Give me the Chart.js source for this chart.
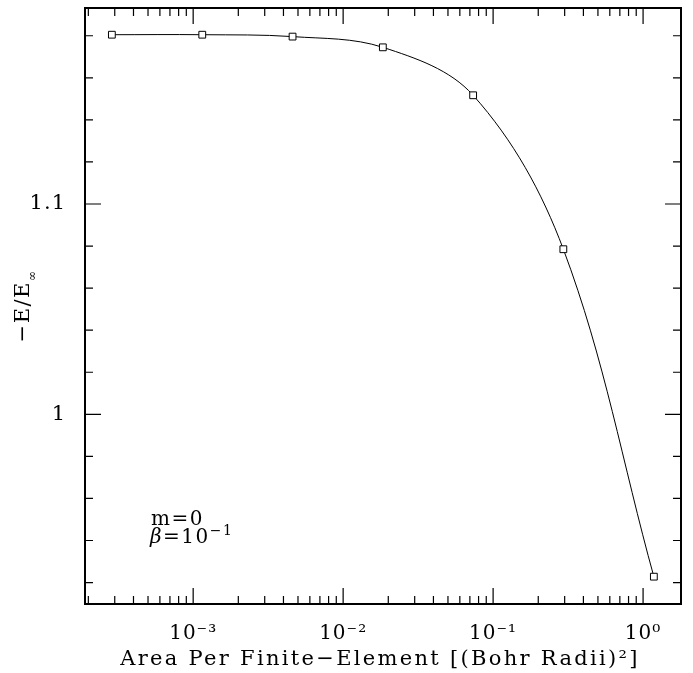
<!DOCTYPE html>
<html lang="en">
<head>
    <meta charset="UTF-8">
    <title>-E/E_inf vs element area</title>
    <script src="https://cdn.jsdelivr.net/npm/chart.js"></script>
    <style>
        body {
            margin: 0;
            background-color: #fff;
        }
        #wrap {
            width: 693px;
            height: 673px;
        }
    </style>
</head>
<body>
    <div id="wrap"><canvas id="graph"></canvas></div>

    <script>
        // area per finite element (Bohr radii^2) and -E/E_inf
        const area = [0.000287, 0.00115, 0.0046, 0.0184, 0.0736, 0.294, 1.18];
        const energy = [1.1805, 1.1805, 1.1796, 1.1745, 1.1517, 1.0785, 0.9228];

        const xMajor = [0.001, 0.01, 0.1, 1];
        const xMajorLabels = ['10⁻³', '10⁻²', '10⁻¹', '10⁰'];
        const yTicks = [0.92, 0.94, 0.96, 0.98, 1.0, 1.02, 1.04, 1.06, 1.08, 1.1, 1.12, 1.14, 1.16, 1.18];
        const yMajor = [1.0, 1.1];
        const yMajorLabels = ['1', '1.1'];

        const xTitle = 'Area Per Finite−Element [(Bohr Radii)²]';

        const xRange = [1.9e-4, 1.79];
        const yRange = [0.9098, 1.1932];

        const serif = '"DejaVu Serif", serif';

        // minor log ticks: 2..9 times each decade inside the range
        const xAll = [];
        for (let e = -4; e <= 0; e++) {
            for (let k = 1; k <= 9; k++) {
                const v = k * Math.pow(10, e);
                if (v >= xRange[0] && v <= xRange[1]) xAll.push(v);
            }
        }

        const isMajor = (list, v) => list.findIndex(m => Math.abs(m - v) / m < 1e-6);

        // inward ticks on all four sides, frame, axis titles and note
        const framePlugin = {
            id: 'frame',
            beforeDraw(chart) {
                chart.ctx.letterSpacing = '1px';
            },
            afterDatasetsDraw(chart) {
                const ctx = chart.ctx;
                const a = chart.chartArea;
                const xs = chart.scales.x, ys = chart.scales.y;
                ctx.save();
                ctx.strokeStyle = '#000';
                ctx.lineWidth = 1.2;
                ctx.beginPath();
                xAll.forEach(v => {
                    const px = xs.getPixelForValue(v);
                    const len = isMajor(xMajor, v) >= 0 ? 16 : 8;
                    ctx.moveTo(px, a.bottom); ctx.lineTo(px, a.bottom - len);
                    ctx.moveTo(px, a.top); ctx.lineTo(px, a.top + len);
                });
                yTicks.forEach(v => {
                    const py = ys.getPixelForValue(v);
                    const len = isMajor(yMajor, v) >= 0 ? 16 : 8;
                    ctx.moveTo(a.left, py); ctx.lineTo(a.left + len, py);
                    ctx.moveTo(a.right, py); ctx.lineTo(a.right - len, py);
                });
                ctx.stroke();

                ctx.lineWidth = 2;
                ctx.strokeRect(a.left, a.top, a.right - a.left, a.bottom - a.top);

                // x title
                ctx.fillStyle = '#000';
                ctx.font = '21px ' + serif;
                ctx.letterSpacing = '2.3px';
                ctx.textAlign = 'center';
                ctx.textBaseline = 'alphabetic';
                ctx.fillText(xTitle, (a.left + a.right) / 2 - 3, 665);

                // y title with subscript infinity
                ctx.letterSpacing = '1.5px';
                ctx.translate(24, (a.top + a.bottom) / 2);
                ctx.rotate(-Math.PI / 2);
                ctx.font = '21px ' + serif;
                ctx.textBaseline = 'middle';
                ctx.textAlign = 'left';
                const main = '−E/E';
                const w = ctx.measureText(main).width;
                ctx.font = '12px ' + serif;
                const ws = ctx.measureText('∞').width;
                const x0 = -(w + ws) / 2;
                ctx.font = '21px ' + serif;
                ctx.fillText(main, x0, 0);
                ctx.font = '12px ' + serif;
                ctx.fillText('∞', x0 + w, 9);
                ctx.restore();

                // note
                ctx.save();
                ctx.fillStyle = '#000';
                ctx.textBaseline = 'alphabetic';
                ctx.letterSpacing = '1.5px';
                ctx.font = '20px ' + serif;
                ctx.fillText('m=0', a.left + 66, a.top + 517);
                ctx.font = 'italic 20px ' + serif;
                ctx.fillText('β', a.left + 65, a.top + 535);
                const bw = ctx.measureText('β').width;
                ctx.font = '20px ' + serif;
                ctx.fillText('=10', a.left + 65 + bw, a.top + 535);
                const ew = ctx.measureText('=10').width;
                ctx.font = '14px ' + serif;
                ctx.fillText('−1', a.left + 65 + bw + ew, a.top + 527);
                ctx.restore();
            }
        };

        const ctx = document.getElementById('graph').getContext('2d');
        new Chart(ctx, {
            type: 'line',
            data: {
                datasets: [{
                    data: area.map((a, i) => ({ x: a, y: energy[i] })),
                    borderColor: '#000',
                    borderWidth: 1,
                    tension: 0.35,
                    pointStyle: 'rect',
                    pointRadius: 4.8,
                    pointBorderWidth: 1,
                    pointBorderColor: '#000',
                    pointBackgroundColor: '#fff',
                    fill: false,
                }],
            },
            options: {
                responsive: true,
                maintainAspectRatio: false,
                animation: false,
                layout: { padding: { top: 8, right: 12, left: 0, bottom: 0 } },
                plugins: {
                    legend: { display: false },
                    tooltip: { enabled: false },
                },
                scales: {
                    x: {
                        type: 'logarithmic',
                        min: xRange[0],
                        max: xRange[1],
                        grid: { display: false },
                        border: { display: false },
                        afterBuildTicks: s => { s.ticks = xAll.map(v => ({ value: v })); },
                        afterFit: s => {
                            s.height = 69;
                            s.paddingLeft = 0;
                            s.paddingRight = 0;
                        },
                        ticks: {
                            autoSkip: false,
                            maxRotation: 0,
                            padding: 10,
                            color: '#000',
                            font: { family: serif, size: 20 },
                            callback: v => {
                                const i = isMajor(xMajor, v);
                                return i >= 0 ? xMajorLabels[i] : '';
                            },
                        },
                    },
                    y: {
                        min: yRange[0],
                        max: yRange[1],
                        grid: { display: false },
                        border: { display: false },
                        afterBuildTicks: s => { s.ticks = yTicks.map(v => ({ value: v })); },
                        afterFit: s => {
                            s.width = 85;
                            s.paddingTop = 0;
                            s.paddingBottom = 0;
                        },
                        ticks: {
                            autoSkip: false,
                            padding: 11,
                            color: '#000',
                            font: { family: serif, size: 21 },
                            callback: v => {
                                const i = isMajor(yMajor, v);
                                return i >= 0 ? yMajorLabels[i] : '';
                            },
                        },
                    },
                },
            },
            plugins: [framePlugin],
        });
    </script>
</body>
</html>
